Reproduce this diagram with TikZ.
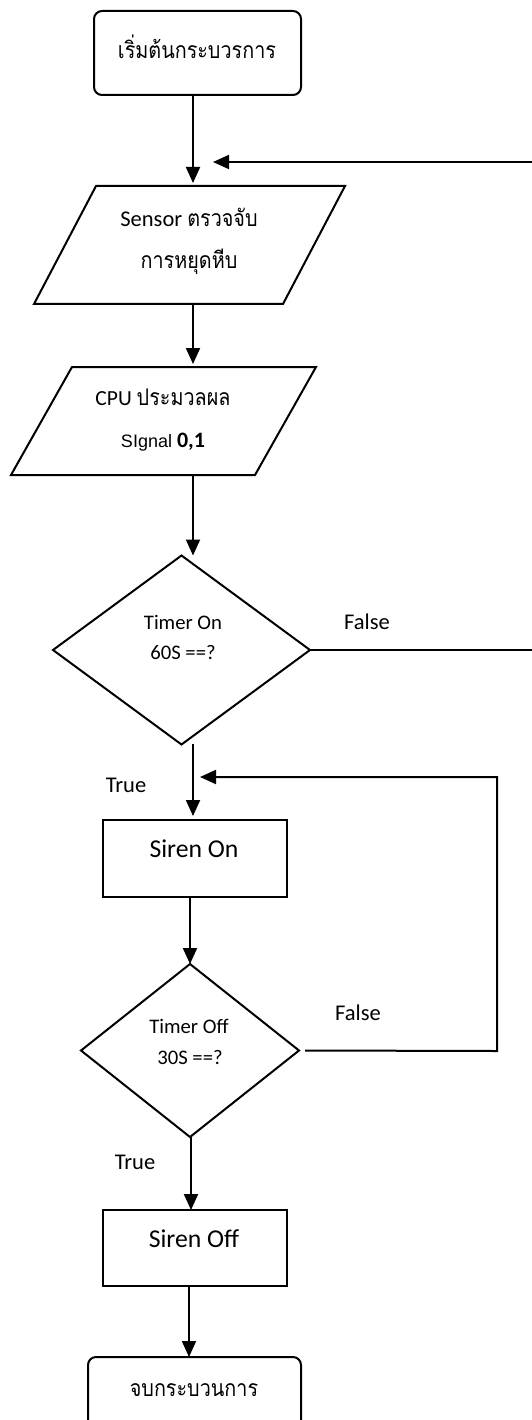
\documentclass[tikz,border=0pt]{standalone}
\usepackage{fontspec}
\setmainfont{Carlito}
\newfontfamily\thaifont[Script=Thai, FakeStretch=0.86]{Loma}
\newfontfamily\arialfont{Liberation Sans}
\usetikzlibrary{arrows.meta,shapes.geometric,calc}

\tikzset{
  line/.style={line width=2pt, black},
  arr/.style={line, -{Triangle[length=16pt,width=14pt]}},
  terminal/.style={draw, line width=2pt, rounded corners=8pt, inner sep=0pt, outer sep=0pt},
  procbox/.style={draw, line width=2pt, inner sep=0pt, outer sep=0pt},
  iobox/.style={inner sep=0pt, outer sep=0pt, minimum width=311pt, minimum height=118pt},
  decision/.style={diamond, draw, line width=2pt, inner sep=0pt, outer sep=0pt},
  label/.style={inner sep=0pt, anchor=center},
  thaitext/.style={label, font=\thaifont\fontsize{23}{27}\selectfont},
  branch/.style={label, font=\fontsize{22.5}{27}\selectfont},
  condtext/.style={label, font=\fontsize{20.7}{24}\selectfont},
  boxtext/.style={label, font=\fontsize{25.7}{30}\selectfont},
}

\begin{document}
\begin{tikzpicture}[x=1pt,y=-1pt]
\useasboundingbox (0,0) rectangle (532,1420);
\clip (0,0) rectangle (532,1420);

% columns used by the vertical connectors
\coordinate (colA) at (193,0);
\coordinate (colB) at (190,0);
\coordinate (colC) at (191,0);
\coordinate (colD) at (189,0);

% start terminal
\node[terminal, minimum width=207pt, minimum height=84pt] (start) at (197.5,53) {};
\node[thaitext] (startText) at (197,47) {เริ่มต้นกระบวรการ};

% sensor input
\node[iobox] (sensor) at (189.5,245) {};
\draw[line, line join=miter] ($(sensor.north west)+(62,0)$) -- (sensor.north east)
  -- ($(sensor.south east)+(-62,0)$) -- (sensor.south west) -- cycle;
\node[label, font=\fontsize{22.5}{27}\selectfont] (sensorText1) at (189,217)
  {Sensor {\thaifont\fontsize{23}{27}\selectfont ตรวจจับ}};
\node[thaitext] (sensorText2) at (189,262) {การหยุดหีบ};

% CPU processing
\node[iobox, minimum width=305pt, minimum height=108pt] (cpu) at (163.5,421) {};
\draw[line, line join=miter] ($(cpu.north west)+(61,0)$) -- (cpu.north east)
  -- ($(cpu.south east)+(-61,0)$) -- (cpu.south west) -- cycle;
\node[label, font=\fontsize{21.5}{26}\selectfont] (cpuText1) at (163,397)
  {CPU {\thaifont\fontsize{23}{27}\selectfont ประมวลผล}};
\node[label] (cpuText2) at (163,442)
  {{\arialfont\fontsize{18}{22}\selectfont SIgnal}\hspace{5pt}{\bfseries\fontsize{22}{26}\selectfont 0,1}};

% first decision
\node[decision, minimum width=257pt, minimum height=189pt] (d1) at (181.5,650) {};
\node[condtext] (d1Text1) at (183,622) {Timer On};
\node[condtext] (d1Text2) at (183,652) {60S ==?};

% siren on
\node[procbox, minimum width=184pt, minimum height=77pt] (sirenOn) at (195,858.5) {};
\node[boxtext] (sirenOnText) at (194,849) {Siren On};

% second decision
\node[decision, minimum width=218pt, minimum height=173pt] (d2) at (190,1050.5) {};
\node[condtext] (d2Text1) at (189,1026) {Timer Off};
\node[condtext] (d2Text2) at (190,1057) {30S ==?};

% siren off
\node[procbox, minimum width=184pt, minimum height=76pt] (sirenOff) at (195,1248) {};
\node[boxtext] (sirenOffText) at (194,1239) {Siren Off};

% end terminal
\node[terminal, minimum width=213pt, minimum height=90pt] (finish) at (194.5,1402) {};
\node[thaitext] (finishText) at (194,1390) {จบกระบวนการ};

% branch labels
\node[branch] (false1) at (367,622) {False};
\node[branch] (true1) at (126,785) {True};
\node[branch] (false2) at (358,1013) {False};
\node[branch] (true2) at (135,1162) {True};

% main flow
\draw[arr, shorten >=3pt] (start.south -| colA) -- (sensor.north -| colA);
\draw[arr, shorten >=3pt] (sensor.south -| colA) -- (cpu.north -| colA);
\draw[arr] (cpu.south -| colA) -- (d1.north -| colA);
\draw[arr, shorten >=4pt] ([yshift=1pt]d1.south -| colA) -- (sirenOn.north -| colA);
\draw[arr] (sirenOn.south -| colB) -- (d2.north -| colB);
\draw[arr] (d2.south -| colC) -- (sirenOff.north -| colC);
\draw[arr] (sirenOff.south -| colD) -- (finish.north -| colD);

% loops back
\coordinate (reentry1) at (213,162);
\coordinate (reentry2) at (200,777);
\draw[arr] (d1.east) -- (548,650) |- (reentry1);
\draw[arr] ([xshift=6pt]d2.east) -- (497,1051) |- (reentry2);
\end{tikzpicture}
\end{document}
